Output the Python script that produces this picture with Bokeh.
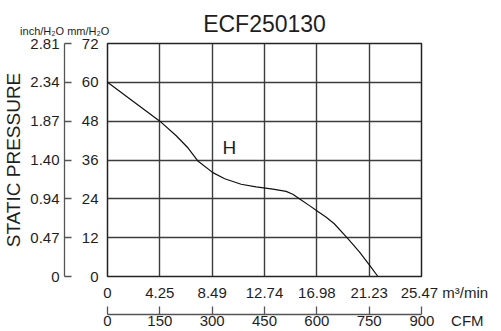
from bokeh.plotting import figure
from bokeh.models import Range1d, LinearAxis, FixedTicker
from bokeh.models import Label
from bokeh.embed import file_html
from bokeh.resources import INLINE

# ---- data ----
title_text = "ECF250130"
curve_name = "H"
cfm = [0, 75, 150, 197, 231, 260, 302, 336, 383, 426, 474, 512, 531, 552, 579, 603, 627, 650, 689, 722, 751, 775]
mmh2o = [60, 54, 48, 43.5, 39.7, 35.6, 32.1, 30.2, 28.5, 27.7, 27.0, 26.3, 25.4, 23.9, 21.9, 20.1, 18.3, 16.3, 11.7, 7.6, 3.5, 0]
cfm_ticks = [0, 150, 300, 450, 600, 750, 900]
m3min_labels = ["0", "4.25", "8.49", "12.74", "16.98", "21.23", "25.47"]
cfm_labels = ["0", "150", "300", "450", "600", "750", "900"]
mm_ticks = [0, 12, 24, 36, 48, 60, 72]
mm_labels = ["0", "12", "24", "36", "48", "60", "72"]
inch_labels = ["0", "0.47", "0.94", "1.40", "1.87", "2.34", "2.81"]
x_unit_m3 = "m³/min"
x_unit_cfm = "CFM"
y_units_text = "inch/H₂O mm/H₂O"

FONT = "Liberation Sans"
TXT = "#1e1e1e"
AX = "#555555"
NB = "\u00a0"

# unit names appended to the last tick label, padded on the left so the number stays centred on its tick
m3_over = dict(zip(cfm_ticks, m3min_labels))
m3_over[cfm_ticks[-1]] = NB * 11 + m3min_labels[-1] + " " + x_unit_m3
cfm_over = dict(zip(cfm_ticks, cfm_labels))
cfm_over[cfm_ticks[-1]] = NB * 12 + cfm_labels[-1] + NB * 4 + x_unit_cfm

p = figure(frame_width=314, frame_height=233, x_range=Range1d(0, 900), y_range=Range1d(0, 72),
           output_backend="svg", toolbar_location=None, title=None,
           x_axis_location=None, y_axis_location=None,
           min_border_left=98, min_border_right=81, min_border_top=36, min_border_bottom=0)
p.outline_line_color = "#222222"
p.outline_line_width = 1.5
p.background_fill_color = "white"
p.border_fill_color = "white"

p.xgrid.ticker = FixedTicker(ticks=cfm_ticks)
p.ygrid.ticker = FixedTicker(ticks=mm_ticks)
p.grid.grid_line_color = "#3c3c3c"
p.grid.grid_line_width = 1.4

# top: unit caption (padded tick label at the frame's left edge) and chart title (axis label)
top = LinearAxis(ticker=FixedTicker(ticks=[cfm_ticks[0]]),
                 major_label_overrides={cfm_ticks[0]: y_units_text + NB * 28},
                 axis_line_color=None, major_tick_line_color=None, minor_tick_line_color=None,
                 major_tick_out=0, major_tick_in=0, major_label_standoff=7,
                 major_label_text_font=FONT, major_label_text_font_size="11px",
                 major_label_text_color=TXT,
                 axis_label=title_text, axis_label_text_font=FONT,
                 axis_label_text_font_size="23px", axis_label_text_font_style="normal",
                 axis_label_text_color=TXT, axis_label_standoff=-15)
p.add_layout(top, "above")
# small empty band above the title
pad = LinearAxis(ticker=FixedTicker(ticks=[]), axis_line_color=None,
                 major_tick_line_color=None, minor_tick_line_color=None,
                 major_tick_out=0, major_tick_in=0, major_label_standoff=0,
                 axis_label=" ", axis_label_text_font_size="1px", axis_label_standoff=3)
p.add_layout(pad, "above")

# bottom axes
m3 = LinearAxis(ticker=FixedTicker(ticks=cfm_ticks),
                major_label_overrides=m3_over,
                axis_line_color=None, major_tick_line_color=None, minor_tick_line_color=None,
                major_tick_out=0, major_tick_in=0, major_label_standoff=7,
                major_label_text_font=FONT, major_label_text_font_size="15px",
                major_label_text_color=TXT,
                axis_label=" ", axis_label_text_font_size="7px", axis_label_standoff=1)
p.add_layout(m3, "below")
cf = LinearAxis(ticker=FixedTicker(ticks=cfm_ticks),
                major_label_overrides=cfm_over,
                axis_line_color=AX, axis_line_width=1.3,
                major_tick_line_color=AX, major_tick_line_width=1.3,
                minor_tick_line_color=None,
                major_tick_out=0, major_tick_in=8, major_label_standoff=-3,
                major_label_text_font=FONT, major_label_text_font_size="15px",
                major_label_text_color=TXT)
p.add_layout(cf, "below")

# left axes
mm = LinearAxis(ticker=FixedTicker(ticks=mm_ticks),
                major_label_overrides=dict(zip(mm_ticks, mm_labels)),
                axis_line_color=None, major_tick_line_color=None, minor_tick_line_color=None,
                major_tick_out=0, major_tick_in=0, major_label_standoff=9,
                major_label_text_font=FONT, major_label_text_font_size="15px",
                major_label_text_color=TXT,
                axis_label=" ", axis_label_text_font_size="8px", axis_label_standoff=2)
p.add_layout(mm, "left")
inch = LinearAxis(ticker=FixedTicker(ticks=mm_ticks),
                  major_label_overrides=dict(zip(mm_ticks, inch_labels)),
                  axis_line_color=AX, axis_line_width=1.3,
                  major_tick_line_color=AX, major_tick_line_width=1.3,
                  minor_tick_line_color=None,
                  major_tick_out=0, major_tick_in=7, major_label_standoff=5,
                  major_label_text_font=FONT, major_label_text_font_size="15px",
                  major_label_text_color=TXT,
                  axis_label="STATIC PRESSURE", axis_label_text_font=FONT,
                  axis_label_text_font_size="19px", axis_label_text_font_style="normal",
                  axis_label_text_color=TXT, axis_label_standoff=3)
p.add_layout(inch, "left")

# curve
p.line(cfm, mmh2o, line_color="#111111", line_width=1.2)

# curve name
p.add_layout(Label(x=349, y=40, text=curve_name, text_font=FONT, text_font_size="19px",
                   text_color=TXT, text_align="center", text_baseline="middle"))

open("out.html", "w").write(file_html(p, INLINE))
